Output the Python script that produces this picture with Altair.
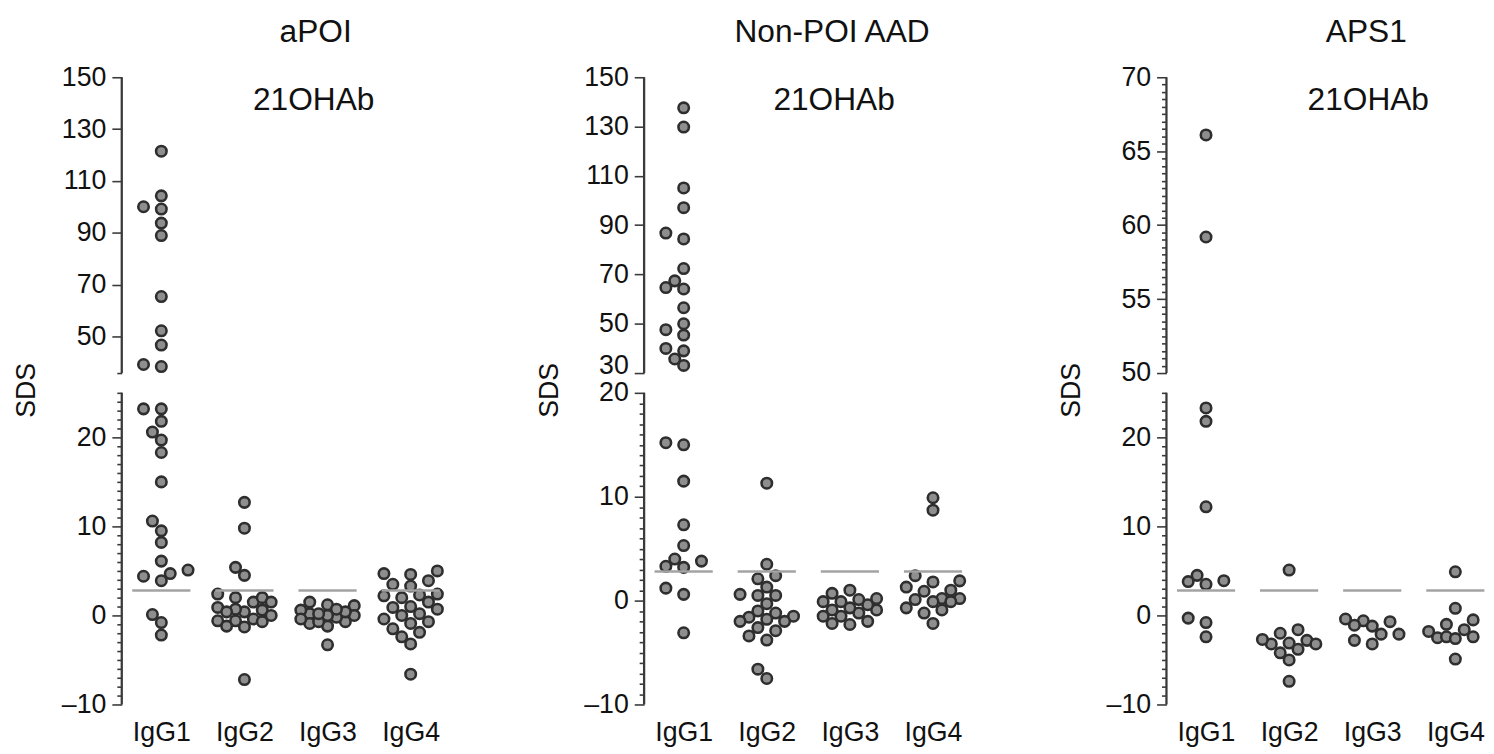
import json
import altair as alt
import pandas as pd

# ---------------- data ----------------
categories = ["IgG1", "IgG2", "IgG3", "IgG4"]
panel_titles = ["aPOI", "Non-POI AAD", "APS1"]
antigen = "21OHAb"
cutoff = 2.8

apoi_igg1 = [121.5, 104.3, 99.2, 100.1, 93.8, 89.0, 65.5, 52.3, 46.8, 38.5, 39.3,
             23.2, 23.2, 21.8, 20.6, 19.7, 18.3, 15.0, 10.6, 9.5, 8.2, 6.1, 4.7,
             5.1, 4.4, 3.9, 0.1, -0.8, -2.2]
apoi_igg2 = [12.7, 9.8, 5.4, 4.5, 1.5, 0.4, -0.6, -1.3, 2.0, 2.4, 2.0, 1.5, 0.6,
             0.9, 0.7, 0.4, -0.4, 0.0, -0.6, -0.7, -1.2, -7.2]
apoi_igg3 = [1.1, 0.2, -0.7, 0.6, -0.2, 1.2, 0.0, -0.9, -1.2, 0.4, -0.4, 1.5, 0.7,
             0.0, -0.7, 0.2, -3.3]
apoi_igg4 = [5.0, 4.6, 4.7, 3.3, 3.5, 3.9, 2.3, 1.5, 2.0, 2.2, 2.4, 1.0, 0.9, 0.7,
             -0.4, 0.0, 0.2, -1.5, -2.4, -0.7, -0.9, -1.9, -3.2, -6.6]

nonpoi_igg1 = [137.6, 129.8, 105.1, 97.1, 86.8, 84.4, 72.4, 67.4, 64.1, 64.7, 56.5,
               50.0, 47.6, 45.4, 40.0, 39.0, 35.7, 33.1, 15.0, 15.2, 11.5, 7.3,
               5.3, 3.8, 4.0, 3.2, 3.3, 1.2, 0.6, -3.1]
nonpoi_igg2 = [11.3, 3.5, 2.4, 2.1, 1.3, 0.5, 0.5, 0.6, -0.3, -1.2, -1.0, -1.5,
               -1.6, -2.0, -1.8, -2.0, -2.6, -2.9, -3.4, -3.8, -7.5, -6.6]
nonpoi_igg3 = [0.7, -0.1, -0.9, -2.0, -0.4, -1.5, 0.1, -0.9, -2.3, 1.0, -0.1, -1.2,
               0.2, -0.7, -2.2, -1.5]
nonpoi_igg4 = [9.9, 8.7, 2.4, 1.9, 1.8, 1.0, 1.3, 0.9, 0.2, 0.2, 0.1, -0.1, -0.1,
               -0.9, -0.7, -1.2, -2.2]

aps1_igg1 = [66.1, 59.2, 23.3, 21.8, 12.2, 4.5, 3.8, 3.5, 3.9, -0.3, -0.8, -2.4]
aps1_igg2 = [5.1, -2.0, -3.2, -4.2, -3.1, -2.8, -1.6, -3.2, -2.7, -3.8, -5.0, -7.4]
aps1_igg3 = [-0.6, -2.1, -1.1, -0.7, -3.2, -2.1, -0.4, -2.8, -1.2]
aps1_igg4 = [4.9, 0.8, -0.5, -1.0, -1.6, -2.4, -1.8, -2.5, -2.4, -2.6, -4.9]

# broken y axis: lower and upper segments of each panel
bottom_domains = [[-10, 25], [-10, 20], [-10, 25]]
top_domains = [[36, 150], [30, 150], [50, 70]]
bottom_major_ticks = [[-10, 0, 10, 20], [-10, 0, 10, 20], [-10, 0, 10, 20]]
bottom_minor_step = [1, 1, 1]
top_major_ticks = [[50, 70, 90, 110, 130, 150], [30, 50, 70, 90, 110, 130, 150],
                   [50, 55, 60, 65, 70]]
top_minor_step = [None, None, 0.5]

# ---------------- layout ----------------
FONT = "Liberation Sans"
W = 322
H_TOP = 299
H_BOT = 315
GAP = 20
H = H_BOT + GAP + H_TOP
X_DOMAIN = [-0.476, 3.357]
STEP = W / (X_DOMAIN[1] - X_DOMAIN[0])
TITLE_X = [196, 190, 202]
LABEL_X = [194, 192, 204]

DOT_FILL = "#8e8e8e"
DOT_STROKE = "#2e2e2e"
AXIS_COLOR = "#3a3a3a"


def seg_pos(v, p, seg):
    """Position (px units from bottom) on the broken axis."""
    if seg == "bottom":
        b0, b1 = bottom_domains[p]
        return (v - b0) * H_BOT / (b1 - b0)
    t0, t1 = top_domains[p]
    return H_BOT + GAP + (v - t0) * H_TOP / (t1 - t0)


def frange(a, b, s):
    out, k = [], 0
    while a + k * s <= b + 1e-9:
        out.append(round(a + k * s, 6))
        k += 1
    return out


def swarm(ys, col_px=9, min_dist=11, max_col=3):
    """Beeswarm: sideways offsets (px) so points do not pile up."""
    placed = []
    offs = [0.0] * len(ys)
    cands = [0]
    for k in range(1, max_col + 1):
        cands += [-k, k]
    for i in sorted(range(len(ys)), key=lambda j: ys[j]):
        y = ys[i]
        best, best_d = 0, -1.0
        for c in cands:
            x = c * col_px
            d = min([((x - px) ** 2 + (y - py) ** 2) ** 0.5 for px, py in placed] or [1e9])
            if d >= min_dist:
                best = x
                break
            if d > best_d:
                best, best_d = x, d
        placed.append((best, y))
        offs[i] = best
    return offs


def panel(p, series):
    b0, b1 = bottom_domains[p]
    t0, t1 = top_domains[p]
    rows = []
    for ci, vals in enumerate(series):
        ys = [seg_pos(v, p, "bottom" if v <= b1 else "top") for v in vals]
        for v, y, o in zip(vals, ys, swarm(ys)):
            rows.append({"pos": ci + o / STEP, "ypos": y, "value": v})
    pts_df = pd.DataFrame(rows)

    # axis ticks (positions on the broken axis) and their labels
    tick_pos, tick_lab, major_pos = [], [], []
    for seg, dom, majors, mstep in (("bottom", bottom_domains[p], bottom_major_ticks[p], bottom_minor_step[p]),
                                    ("top", top_domains[p], top_major_ticks[p], top_minor_step[p])):
        vals = frange(dom[0], dom[1], mstep) if mstep else sorted(set(majors + dom))
        for v in vals:
            pos = round(seg_pos(v, p, seg), 4)
            tick_pos.append(pos)
            is_major = any(abs(v - m) < 1e-9 for m in majors)
            tick_lab.append(str(int(v)) if is_major else "")
            if is_major:
                major_pos.append(pos)
    tick_lab = [s.replace("-", "\u2013") for s in tick_lab]
    # lift the label at the lower end of the upper segment when the lower
    # segment also carries a label at its top end (they would collide)
    raised = []
    if b1 in bottom_major_ticks[p] and t0 in top_major_ticks[p]:
        raised.append(round(seg_pos(t0, p, "top"), 4))

    seg_df = pd.DataFrame({"lo": [0, seg_pos(t0, p, "top")],
                           "hi": [seg_pos(b1, p, "bottom"), H]})
    cut_y = seg_pos(cutoff, p, "bottom")
    cut_df = pd.DataFrame({"x": [i - 0.35 for i in range(len(categories))],
                           "x2": [i + 0.35 for i in range(len(categories))],
                           "ypos": [cut_y] * len(categories)})

    xs = alt.Scale(domain=X_DOMAIN, nice=False, zero=False)
    ys = alt.Scale(domain=[0, H], nice=False, zero=False)

    y_axis = alt.Axis(
        values=tick_pos, domain=False, grid=False, labelOverlap=False, labelFlush=False,
        labelExpr=f"{json.dumps(tick_lab)}[indexof({json.dumps(tick_pos)}, datum.value)]",
        labelBaseline={"condition": {"test": f"indexof({json.dumps(raised)}, datum.value) >= 0",
                                     "value": "alphabetic"}, "value": "middle"},
        tickSize={"condition": {"test": f"indexof({json.dumps(major_pos)}, datum.value) >= 0",
                                "value": 10}, "value": 5},
        tickColor=AXIS_COLOR, tickWidth=1.6,
        labelFontSize=27, labelColor="#111", labelPadding=6, labelFont=FONT,
        title="SDS", titleX=-96, titleY=H / 2 - 1, titleAngle=270, titleAlign="center",
        titleBaseline="middle", titleFontSize=27, titleFontWeight="normal",
        titleFont=FONT, titleColor="#111",
    )
    x_axis = alt.Axis(
        values=list(range(len(categories))),
        labelExpr=f"{json.dumps(categories)}[datum.value]",
        domain=False, ticks=False, tickSize=0, grid=False,
        labelFontSize=27, labelFont=FONT, labelColor="#111",
        labelPadding=15, labelFlush=False, labelOverlap=False, title=None,
    )

    dots = alt.Chart(pts_df).mark_point(
        size=112, filled=True, fill=DOT_FILL, stroke=DOT_STROKE, strokeWidth=2.6,
        opacity=1, shape="circle",
    ).encode(
        x=alt.X("pos:Q", scale=xs, axis=x_axis),
        y=alt.Y("ypos:Q", scale=ys, axis=y_axis),
    )
    axis_lines = alt.Chart(seg_df).mark_rule(color=AXIS_COLOR, strokeWidth=2.3).encode(
        x=alt.value(0), y=alt.Y("lo:Q", scale=ys, axis=None), y2="hi:Q")
    cut = alt.Chart(cut_df).mark_rule(color="#a3a3a3", strokeWidth=2.6).encode(
        x=alt.X("x:Q", scale=xs, axis=None), x2="x2:Q",
        y=alt.Y("ypos:Q", scale=ys, axis=None))
    label = alt.Chart(pd.DataFrame({"t": [antigen]})).mark_text(
        fontSize=32, font=FONT, color="#111", baseline="middle", align="center"
    ).encode(x=alt.value(LABEL_X[p]), y=alt.value(23), text="t:N")
    title = alt.Chart(pd.DataFrame({"t": [panel_titles[p]]})).mark_text(
        fontSize=32, font=FONT, color="#111", baseline="middle", align="center"
    ).encode(x=alt.value(TITLE_X[p]), y=alt.value(-46), text="t:N")

    return alt.layer(dots, cut, axis_lines, label, title).resolve_axis(
        x="independent", y="independent").properties(width=W, height=H)


chart = alt.hconcat(
    panel(0, [apoi_igg1, apoi_igg2, apoi_igg3, apoi_igg4]),
    panel(1, [nonpoi_igg1, nonpoi_igg2, nonpoi_igg3, nonpoi_igg4]),
    panel(2, [aps1_igg1, aps1_igg2, aps1_igg3, aps1_igg4]),
    spacing=88,
).properties(
    padding={"left": 5, "top": 4, "right": 0, "bottom": 0}
).configure(font=FONT).configure_view(stroke=None)

chart.save("out.html", embed_options={"renderer": "svg", "actions": False})
